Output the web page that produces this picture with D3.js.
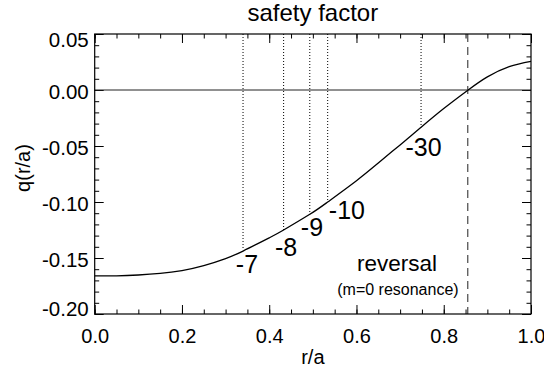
<!DOCTYPE html>
<html>
<head>
<meta charset="utf-8">
<script src="https://cdn.jsdelivr.net/npm/d3@7"></script>
<style>
  body { margin: 0; background: #fff; }
  svg { display: block; font-family: "Liberation Sans", Arial, Helvetica, sans-serif; }
</style>
</head>
<body>
<div id="chart"></div>
<script>
// q(r/a) profile
const rProfile = [0.0, 0.05, 0.1, 0.15, 0.2, 0.25, 0.3, 0.34, 0.4, 0.433, 0.493, 0.534, 0.6, 0.65, 0.7, 0.748, 0.8, 0.856, 0.9, 0.95, 1.0];
const qProfile = [-0.1660, -0.1659, -0.1652, -0.1638, -0.1612, -0.1568, -0.1505, -0.1438, -0.1320, -0.1250, -0.1110, -0.1000, -0.0810, -0.0652, -0.0490, -0.0333, -0.0166, 0.0, 0.0117, 0.0208, 0.0255];

// resonant surfaces q = -1/n
const resLabels = ["-7", "-8", "-9", "-10", "-30"];
const resR = [0.340, 0.433, 0.493, 0.534, 0.748];
const resQ = [-0.1429, -0.125, -0.1111, -0.100, -0.0333];
// where the labels sit, in data units
const resLabelR = [0.349, 0.4385, 0.498, 0.578, 0.7536];
const resLabelQ = [-0.163, -0.148, -0.130, -0.1148, -0.059];

const reversalR = 0.855;

const xTicks = [0.0, 0.2, 0.4, 0.6, 0.8, 1.0];
const yTicks = [0.05, 0.00, -0.05, -0.10, -0.15, -0.20];

const W = 544, H = 369;
const margin = { top: 34, right: 13, bottom: 55, left: 94.7 };
const width = W - margin.left - margin.right;
const height = H - margin.top - margin.bottom;

const svg = d3.select("#chart").append("svg")
  .attr("width", W)
  .attr("height", H);

const g = svg.append("g")
  .attr("transform", `translate(${margin.left},${margin.top})`);

const x = d3.scaleLinear().domain([0, 1]).range([0, width]);
const y = d3.scaleLinear().domain([-0.2, 0.05]).range([height, 0]);

const minus = s => s.replace("\u2212", "-");

// minor ticks on all four sides
const xMinor = d3.range(0, 1.0001, 0.05);
const yMinor = d3.range(-0.2, 0.0501, 0.01);

function tickAxis(axis, values, size) {
  return axis.tickValues(values).tickSize(size).tickFormat("");
}

g.append("g").attr("transform", `translate(0,${height})`).call(tickAxis(d3.axisBottom(x), xMinor, -4.5));
g.append("g").call(tickAxis(d3.axisTop(x), xMinor, -4.5));
g.append("g").call(tickAxis(d3.axisLeft(y), yMinor, -4.5));
g.append("g").attr("transform", `translate(${width},0)`).call(tickAxis(d3.axisRight(y), yMinor, -4.5));

// major ticks
g.append("g").call(tickAxis(d3.axisTop(x), xTicks, -9));
g.append("g").attr("transform", `translate(${width},0)`).call(tickAxis(d3.axisRight(y), yTicks, -9));

const xAxis = g.append("g")
  .attr("transform", `translate(0,${height})`)
  .call(d3.axisBottom(x).tickValues(xTicks).tickSize(-9).tickPadding(15)
    .tickFormat(d => d3.format(".1f")(d)));

const yAxis = g.append("g")
  .call(d3.axisLeft(y).tickValues(yTicks).tickSize(-9).tickPadding(6)
    .tickFormat(d => minus(d3.format(".2f")(d))));

g.selectAll(".domain").remove();
g.selectAll(".tick line").attr("stroke", "#000").attr("stroke-width", 1);

xAxis.selectAll("text")
  .attr("fill", "#000")
  .style("font-size", "20px")
  .style("font-family", "'Liberation Sans', Arial, sans-serif");

yAxis.selectAll("text")
  .attr("fill", "#000")
  .style("font-size", "20.5px")
  .style("font-family", "'Liberation Sans', Arial, sans-serif");

// keep the end labels of the y axis inside the frame
yAxis.selectAll(".tick").each(function(d) {
  const ty = y(d);
  const cy = Math.max(6, Math.min(height - 5, ty + 2));
  d3.select(this).select("text").attr("y", cy - ty);
});

// zero line
g.append("line")
  .attr("x1", 0).attr("x2", width)
  .attr("y1", y(0)).attr("y2", y(0))
  .attr("stroke", "#222").attr("stroke-width", 1);

// resonance markers
g.selectAll(".res")
  .data(resR)
  .enter().append("line")
  .attr("class", "res")
  .attr("x1", d => x(d)).attr("x2", d => x(d))
  .attr("y1", 0).attr("y2", (d, i) => y(resQ[i]))
  .attr("stroke", "#000").attr("stroke-width", 1)
  .attr("stroke-dasharray", "1,2");

// reversal surface
g.append("line")
  .attr("x1", x(reversalR)).attr("x2", x(reversalR))
  .attr("y1", 0).attr("y2", height)
  .attr("stroke", "#555").attr("stroke-width", 1.3)
  .attr("stroke-dasharray", "8,5");

// q profile
const line = d3.line()
  .x((d, i) => x(rProfile[i]))
  .y(d => y(d))
  .curve(d3.curveNatural);

g.append("path")
  .datum(qProfile)
  .attr("fill", "none")
  .attr("stroke", "#000")
  .attr("stroke-width", 1.3)
  .attr("d", line);

// frame
g.append("rect")
  .attr("width", width).attr("height", height)
  .attr("fill", "none").attr("stroke", "#000").attr("stroke-width", 1.2);

// resonance labels
g.selectAll(".resLabel")
  .data(resLabels)
  .enter().append("text")
  .attr("class", "resLabel")
  .attr("x", (d, i) => x(resLabelR[i]))
  .attr("y", (d, i) => y(resLabelQ[i]))
  .attr("text-anchor", "middle")
  .style("font-size", "25px")
  .text(d => d);

g.append("text")
  .attr("x", x(0.693)).attr("y", y(-0.1616))
  .attr("text-anchor", "middle")
  .style("font-size", "22.5px")
  .text("reversal");

g.append("text")
  .attr("x", x(0.695)).attr("y", y(-0.183))
  .attr("text-anchor", "middle")
  .style("font-size", "16px")
  .text("(m=0 resonance)");

// titles
svg.append("text")
  .attr("x", margin.left + width / 2).attr("y", 21)
  .attr("text-anchor", "middle")
  .style("font-size", "24px")
  .text("safety factor");

svg.append("text")
  .attr("x", margin.left + width / 2).attr("y", 364)
  .attr("text-anchor", "middle")
  .style("font-size", "20px")
  .text("r/a");

svg.append("text")
  .attr("transform", `translate(30,${margin.top + height / 2 - 6}) rotate(-90)`)
  .attr("text-anchor", "middle")
  .style("font-size", "20px")
  .text("q(r/a)");
</script>
</body>
</html>
